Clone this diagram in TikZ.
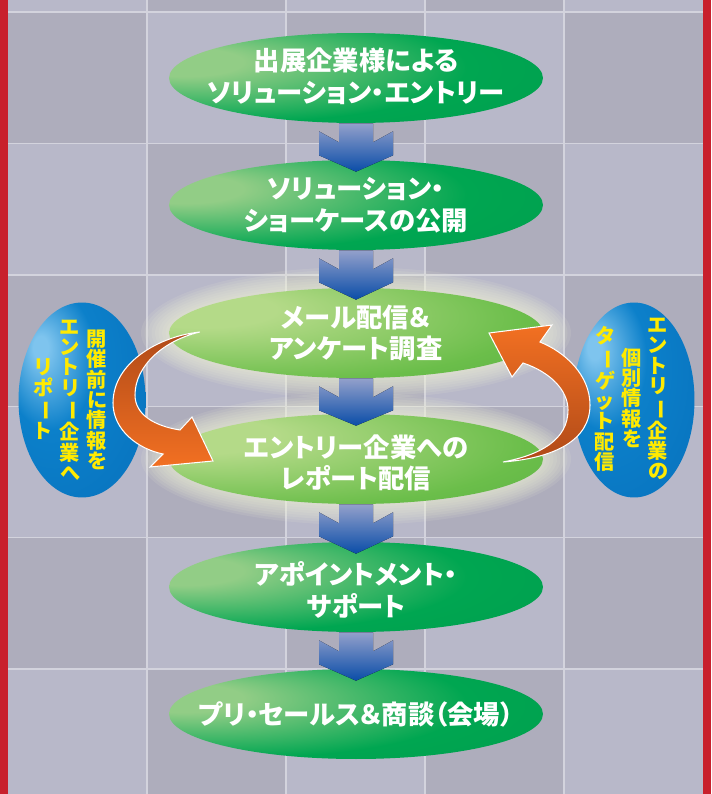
\documentclass[tikz,border=0pt]{standalone}
\usepackage{fontspec}
\usepackage{graphicx}
\usepackage{xcolor}
\usetikzlibrary{shapes.geometric,calc}

\newfontfamily\jpfont[RawFeature=+palt]{Noto Sans CJK JP}

\definecolor{bgLight}{HTML}{B8B8C9}
\definecolor{bgDark}{HTML}{AEADBC}
\definecolor{gridLine}{HTML}{D3D3DD}
\definecolor{frameRed}{HTML}{C8202C}
\definecolor{gHi}{HTML}{92CD86}
\definecolor{gMid}{HTML}{00A651}
\definecolor{gDark}{HTML}{007A3C}
\definecolor{lgHi}{HTML}{B4DA88}
\definecolor{lgMid}{HTML}{6BBE4A}
\definecolor{lgDark}{HTML}{2D8A34}
\definecolor{bHi}{HTML}{7EC4EE}
\definecolor{bMid}{HTML}{0C80CA}
\definecolor{bDark}{HTML}{005CAA}
\definecolor{arTop}{HTML}{93A0CB}
\definecolor{arBot}{HTML}{0A4DA8}
\definecolor{orng}{HTML}{F27022}
\definecolor{brwn}{HTML}{B04A18}
\definecolor{glow}{HTML}{F2F5D8}
\definecolor{txtYellow}{HTML}{FFEA00}

\pgfdeclareradialshading{greenball}{\pgfpoint{-26bp}{10bp}}{color(0bp)=(gHi); color(8bp)=(gHi); color(30bp)=(gMid); color(55bp)=(gMid!75!gDark); color(72bp)=(gDark)}
\pgfdeclareradialshading{litball}{\pgfpoint{-24bp}{15bp}}{color(0bp)=(lgHi); color(10bp)=(lgHi); color(35bp)=(lgMid); color(55bp)=(lgMid!60!lgDark); color(72bp)=(lgDark)}
\pgfdeclareradialshading{blueball}{\pgfpoint{-17bp}{14bp}}{color(0bp)=(bHi); color(3bp)=(bHi); color(18bp)=(bMid); color(38bp)=(bMid!70!bDark); color(50bp)=(bDark); color(72bp)=(bDark)}

\newcommand{\vlong}{\rotatebox[origin=c]{-90}{ー}}

\tikzset{
  stage/.style={ellipse, minimum width=7.48cm, minimum height=1.8cm, inner sep=0pt},
  stagetext/.style={text=white, align=center, inner sep=0pt, font=\jpfont\bfseries\fontsize{15}{18}\selectfont},
  sideoval/.style={ellipse, shading=blueball, minimum height=3.9cm, inner sep=0pt},
  sidetext/.style={text=txtYellow, align=center, inner sep=0pt, font=\jpfont\bfseries\fontsize{11.5}{11.6}\selectfont},
  flowarrow/.style={top color=arTop, bottom color=arBot},
  bendarrow/.style={draw=white, line width=0.6pt}
}

\begin{document}
\begin{tikzpicture}[x=0.02cm, y=-0.02cm]
\useasboundingbox (0,0) rectangle (711,794);

% Background
\fill[bgLight] (0,0) rectangle (711,794);
\foreach \i in {0,...,4}
  \foreach \j in {-1,...,5} {
    \pgfmathtruncatemacro{\cellpar}{mod(\i+\j+2,2)}
    \ifnum\cellpar=0 \fill[bgDark] ({8+139*\i},{12+131.4*\j}) rectangle ++(139,131.4); \fi
  }
\foreach \j in {0,...,5}
  \draw[gridLine, line width=0.8pt] (8,{12+131.4*\j}) -- (703,{12+131.4*\j});
\foreach \i in {1,...,4}
  \draw[gridLine, line width=0.8pt] ({8+139*\i},0) -- ({8+139*\i},794);
\fill[frameRed] (0,0) rectangle (8,794);
\fill[frameRed] (703,0) rectangle (711,794);

% Centres
\foreach \n/\y in {1/78, 2/205, 3/333, 4/459, 5/587, 6/714}
  \coordinate (c\n) at (356,\y);

% Glow
\foreach \k in {1,...,8} {
  \fill[glow, opacity=0.11] (c3) ellipse ({187+3.5*\k} and {45+2.6*\k});
  \fill[glow, opacity=0.11] (c4) ellipse ({187+3.5*\k} and {45+2.6*\k});
}

% Stages
\node[stage, shading=greenball] (e1) at (c1) {};
\node[stage, shading=greenball] (e2) at (c2) {};
\node[stage, shading=litball] (e3) at (c3) {};
\node[stage, shading=litball] (e4) at (c4) {};
\node[stage, shading=greenball] (e5) at (c5) {};
\node[stage, shading=greenball] (e6) at (c6) {};

% Arrows
\foreach \a/\b in {e1/e2, e2/e3, e3/e4, e4/e5, e5/e6}
  \fill[flowarrow] ($(\a.south)+(-17,0)$) -- ($(\a.south)+(17,0)$) -- ($(\a.south)+(17,19)$)
    -- ($(\a.south)+(37,8)$) -- ($(\a.south)+(37,32)$) -- ($(\b.north)+(0,12)$)
    -- ($(\a.south)+(-37,32)$) -- ($(\a.south)+(-37,8)$) -- ($(\a.south)+(-17,19)$) -- cycle;

% Side ovals
\node[sideoval, minimum width=2.54cm] (lo) at (82,400) {};
\node[sideoval, minimum width=2.42cm] (ro) at (634,400) {};

\node[sidetext] (lo1) at (97,400) {開\\催\\前\\に\\情\\報\\を};
\node[sidetext] (lo2) at (70,400) {エ\\ン\\ト\\リ\\\vlong\\企\\業\\へ};
\node[sidetext] (lo3) at (43,399) {リ\\ポ\\\vlong\\ト};

\node[sidetext] (ro1) at (658,399) {エ\\ン\\ト\\リ\\\vlong\\企\\業\\の};
\node[sidetext] (ro2) at (632,398) {個\\別\\情\\報\\を};
\node[sidetext] (ro3) at (605,399) {タ\\\vlong\\ゲ\\ッ\\ト\\配\\信};

% Bent arrows
\fill[bendarrow, top color=brwn, bottom color=orng]
  (200,332) .. controls (160,336) and (113,362) .. (113,403)
  .. controls (113,430) and (138,449) .. (163,454)
  -- (150,467) -- (213,461) -- (192,417) -- (180,430)
  .. controls (155,426) and (135,415) .. (135,395)
  .. controls (135,365) and (165,340) .. cycle;
\fill[bendarrow, top color=orng, middle color=orng!75!brwn, bottom color=brwn]
  (503,462) .. controls (555,458) and (590,440) .. (590,405)
  .. controls (590,375) and (565,352) .. (540,342)
  -- (552,325) -- (489,333) -- (512,377) -- (523,363)
  .. controls (550,372) and (568,390) .. (568,410)
  .. controls (568,440) and (540,455) .. cycle;

% Texts
\node[stagetext] (t1) at ($(e1)+(0,-2)$) {出展企業様による\\ソリューション・エントリー};
\node[stagetext] (t2) at (e2) {ソリューション・\\ショーケースの公開};
\node[stagetext] (t3) at (e3) {メール配信＆\\アンケート調査};
\node[stagetext] (t4) at ($(e4)+(0,4)$) {エントリー企業への\\レポート配信};
\node[stagetext] (t5) at ($(e5)+(0,3)$) {アポイントメント・\\サポート};
\node[stagetext] (t6) at (e6) {プリ・セールス＆商談（会場）};
\end{tikzpicture}
\end{document}
